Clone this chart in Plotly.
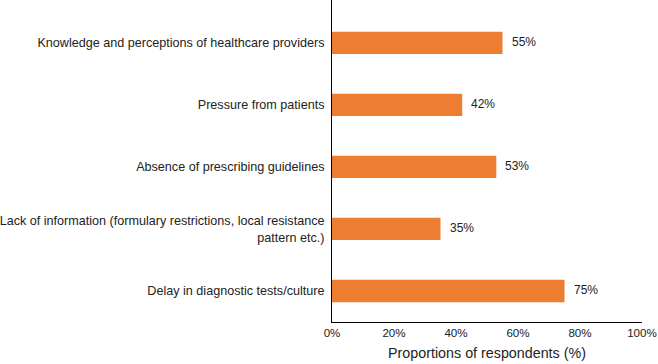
import plotly.graph_objects as go

categories = [
    "Delay in diagnostic tests/culture",
    "Lack of information (formulary restrictions, local resistance<br>pattern etc.)",
    "Absence of prescribing guidelines",
    "Pressure from patients",
    "Knowledge and perceptions of healthcare providers",
]
values = [75, 35, 53, 42, 55]
tick_vals = [0, 20, 40, 60, 80, 100]
tick_text = ["0%", "20%", "40%", "60%", "80%", "100%"]

FONT = "Liberation Sans, Arial, Helvetica, sans-serif"

fig = go.Figure()
fig.add_trace(go.Bar(
    x=values, y=list(range(len(categories))), orientation="h",
    marker=dict(color="#ED7D31", line=dict(width=0)),
    width=0.36,
))
for i, v in enumerate(values):
    fig.add_annotation(x=v, y=i, text=f"{v}%", showarrow=False,
                       xanchor="left", xshift=7, yshift=1,
                       font=dict(size=12, color="#222", family=FONT))

fig.update_layout(
    width=658, height=364,
    margin=dict(l=332, r=16, t=0, b=42),
    plot_bgcolor="white", paper_bgcolor="white",
    showlegend=False,
    font=dict(family=FONT, size=12.6, color="#222"),
    xaxis=dict(range=[0, 100], tickvals=tick_vals, ticktext=tick_text,
               showgrid=False, zeroline=False, showline=True, linecolor="black",
               linewidth=1, ticks="", tickfont=dict(size=11.6),
               title=dict(text="Proportions of respondents (%)", font=dict(size=14.3), standoff=10),
               automargin=False),
    yaxis=dict(range=[-0.5, 4.69], tickvals=list(range(len(categories))), ticktext=categories,
               showgrid=False, zeroline=False, showline=True, linecolor="black",
               linewidth=1, ticks="", ticklabelstandoff=4, tickfont=dict(size=12.6),
               automargin=False),
)
fig.write_html("out.html", config={"displayModeBar": False},
               post_script="document.body.style.margin='0';document.body.style.overflow='hidden';")
